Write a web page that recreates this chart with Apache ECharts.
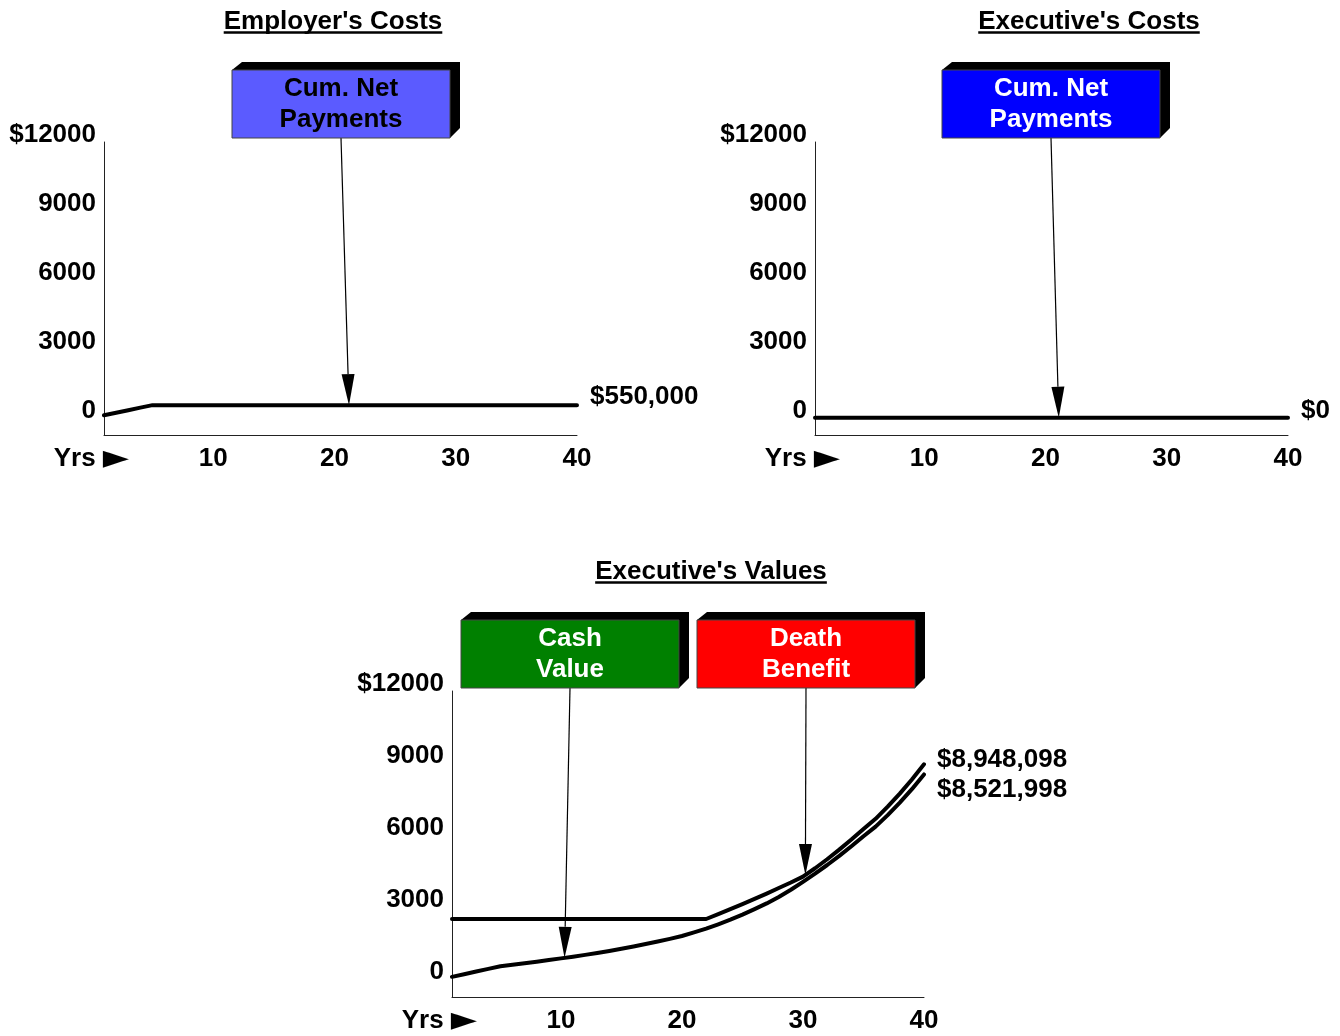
<!DOCTYPE html>
<html><head><meta charset="utf-8">
<script src="https://cdn.jsdelivr.net/npm/echarts@6/dist/echarts.min.js"></script>
<style>html,body{margin:0;padding:0;background:#fff}#c{width:1340px;height:1036px}</style>
</head><body><div id="c"></div>
<script>
// ---- data (values in $ thousands) ----
const years = [1,2,3,4,5,6,7,8,9,10,11,12,13,14,15,16,17,18,19,20,21,22,23,24,25,26,27,28,29,30,31,32,33,34,35,36,37,38,39,40];
const employerCum = [110,220,330,440,550,550,550,550,550,550,550,550,550,550,550,550,550,550,550,550,550,550,550,550,550,550,550,550,550,550,550,550,550,550,550,550,550,550,550,550];
const executiveCum = [0,0,0,0,0,0,0,0,0,0,0,0,0,0,0,0,0,0,0,0,0,0,0,0,0,0,0,0,0,0,0,0,0,0,0,0,0,0,0,0];
const cashValue = [90,200,310,420,530,590,655,720,790,860,930,1005,1085,1170,1260,1355,1455,1560,1670,1790,1940,2100,2280,2470,2680,2910,3150,3420,3720,4050,4390,4750,5130,5530,5950,6350,6830,7350,7910,8522];
const deathBenefit = [2500,2500,2500,2500,2500,2500,2500,2500,2500,2500,2500,2500,2500,2500,2500,2500,2500,2500,2500,2500,2500,2500,2700,2910,3120,3340,3560,3790,4020,4265,4615,4990,5390,5810,6250,6675,7180,7725,8315,8948];
const yTicks = [0,3000,6000,9000,12000];
const yTickLabels = ['0','3000','6000','9000','$12000'];
const xTicks = [10,20,30,40];
const xNameWord = 'Yrs';
const xNameArrow = '\u25BA';
const panelTitles = ["Employer's Costs", "Executive's Costs", "Executive's Values"];
const endLabelTexts = ['$550,000', '$0', '$8,948,098', '$8,521,998'];
const calloutTexts = ['Cum. Net\nPayments', 'Cum. Net\nPayments', 'Cash\nValue', 'Death\nBenefit'];
const arrowYears = [21.2, 21.1, 10.3, 30.2];

const FONT = '"Liberation Sans", Arial, Helvetica, sans-serif';
const FS = 26;
const chart = echarts.init(document.getElementById('c'));

const grids = [
  {left:104, top:142, width:473, height:293, outerBoundsMode:'none', containLabel:false},
  {left:815, top:142, width:473, height:293, outerBoundsMode:'none', containLabel:false},
  {left:452, top:691, width:472, height:306, outerBoundsMode:'none', containLabel:false}
];
function mkX(i){
  return {type:'value', gridIndex:i, min:1, max:40,
    axisLine:{onZero:false, lineStyle:{color:'#222', width:1}},
    axisTick:{show:false}, splitLine:{show:false},
    axisLabel:{customValues:xTicks, color:'#000', fontFamily:FONT, fontWeight:'bold', fontSize:FS, margin:11},
    name:'{w|'+xNameWord+'} {a|'+xNameArrow+'}', nameLocation:'start', nameGap:-25,
    nameTextStyle:{color:'#000', fontFamily:FONT, fontWeight:'bold', fontSize:FS, lineHeight:26, verticalAlign:'top', padding:[11,0,0,0],
      rich:{w:{fontFamily:FONT, fontWeight:'bold', fontSize:FS, lineHeight:26, color:'#000'},
            a:{fontFamily:'"DejaVu Sans", sans-serif', fontSize:34, lineHeight:26, color:'#000'}}}};
}
function mkY(i){
  return {type:'value', gridIndex:i, min:-750, max:12000,
    axisLine:{show:true, onZero:false, lineStyle:{color:'#222', width:1}},
    axisTick:{show:false}, splitLine:{show:false},
    axisLabel:{customValues:yTicks, formatter:v => yTickLabels[yTicks.indexOf(v)],
      color:'#000', fontFamily:FONT, fontWeight:'bold', fontSize:FS, margin:8, verticalAlign:'bottom', lineHeight:14}};
}
function mkLine(i, vals, label, offset){
  return {type:'line', xAxisIndex:i, yAxisIndex:i,
    data: years.map((y,k)=>[y, vals[k]]),
    showSymbol:false, symbol:'none', silent:true, clip:false,
    lineStyle:{color:'#000', width:4, cap:'round', join:'round'},
    endLabel:{show:true, formatter:label, color:'#000', fontFamily:FONT, fontWeight:'bold', fontSize:FS, distance:13, offset:offset}};
}
const series = [
  mkLine(0, employerCum, endLabelTexts[0], [0,-8]),
  mkLine(1, executiveCum, endLabelTexts[1], [0,-7]),
  mkLine(2, deathBenefit, endLabelTexts[2], [0,-4]),
  mkLine(2, cashValue, endLabelTexts[3], [0,15])
];
chart.setOption({
  animation:false,
  grid:grids,
  xAxis:[mkX(0), mkX(1), mkX(2)],
  yAxis:[mkY(0), mkY(1), mkY(2)],
  series:series
});

// ---- annotations ----
function interp(vals, x){
  for (let k=0;k<years.length-1;k++){
    if (x>=years[k] && x<=years[k+1]){
      const t=(x-years[k])/(years[k+1]-years[k]);
      return vals[k]+t*(vals[k+1]-vals[k]);
    }
  }
  return vals[vals.length-1];
}
const boxes = [
  {x:232, y:70, fill:'#5b5bff', color:'#000', series:0, vals:employerCum},
  {x:942, y:70, fill:'#0000ff', color:'#fff', series:1, vals:executiveCum},
  {x:461, y:620, fill:'#008000', color:'#fff', series:3, vals:cashValue},
  {x:697, y:620, fill:'#ff0000', color:'#fff', series:2, vals:deathBenefit}
];
const BW=218, BH=68, D=9;
const g = [];
const mctx = document.createElement('canvas').getContext('2d');
mctx.font = 'bold '+FS+'px '+FONT;
const titlePos = [[333,22],[1089,22],[711,572]];
panelTitles.forEach((t,i)=>{
  const [cx,cy]=titlePos[i];
  g.push({type:'text', silent:true, style:{text:t, x:cx, y:cy, align:'center', verticalAlign:'middle', font:'bold '+FS+'px '+FONT, fill:'#000'}});
  const w = mctx.measureText(t).width;
  g.push({type:'line', silent:true, shape:{x1:cx-w/2, y1:cy+10.5, x2:cx+w/2, y2:cy+10.5}, style:{stroke:'#000', lineWidth:2.6}});
});
boxes.forEach((b,i)=>{
  const tip = chart.convertToPixel({seriesIndex:b.series}, [arrowYears[i], interp(b.vals, arrowYears[i])]);
  const sx=b.x+BW/2, sy=b.y+BH;
  const dx=tip[0]-sx, dy=tip[1]-sy, L=Math.hypot(dx,dy), ux=dx/L, uy=dy/L;
  const AL=31, AW=6.5;
  const bx=tip[0]-ux*AL, by=tip[1]-uy*AL;
  g.push({type:'line', silent:true, shape:{x1:sx, y1:sy, x2:bx, y2:by}, style:{stroke:'#000', lineWidth:1.2}});
  g.push({type:'polygon', silent:true, shape:{points:[[tip[0],tip[1]],[bx-uy*AW, by+ux*AW],[bx+uy*AW, by-ux*AW]]}, style:{fill:'#000'}});
  g.push({type:'polygon', silent:true, shape:{points:[[b.x,b.y],[b.x+D+1,b.y-D+1],[b.x+BW+D+1,b.y-D+1],[b.x+BW+D+1,b.y+BH-D-1],[b.x+BW,b.y+BH],[b.x+BW,b.y]]}, style:{fill:'#000'}});
  g.push({type:'rect', silent:true, shape:{x:b.x, y:b.y, width:BW, height:BH}, style:{fill:b.fill, stroke:'#444', lineWidth:1}});
  g.push({type:'text', silent:true, style:{text:calloutTexts[i], x:b.x+BW/2, y:b.y+BH/2, align:'center', verticalAlign:'middle', lineHeight:31, font:'bold '+FS+'px '+FONT, fill:b.color}});
});
chart.setOption({graphic:g});
</script></body></html>
